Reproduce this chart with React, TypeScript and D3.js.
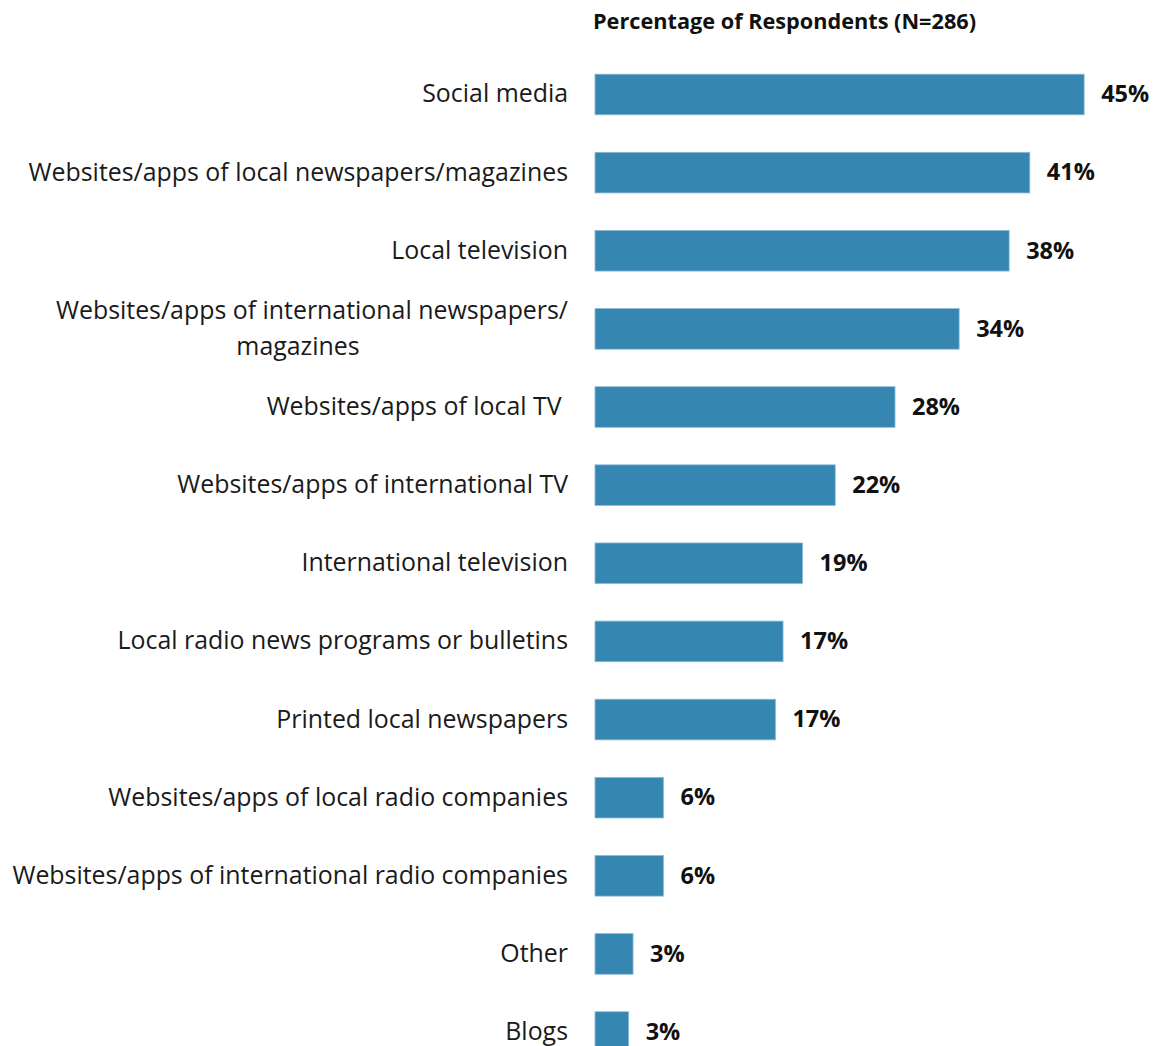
import React from "react";
import * as d3 from "d3";

const categories = [
  "Social media",
  "Websites/apps of local newspapers/magazines",
  "Local television",
  "Websites/apps of international newspapers/\nmagazines",
  "Websites/apps of local TV ",
  "Websites/apps of international TV",
  "International television",
  "Local radio news programs or bulletins",
  "Printed local newspapers",
  "Websites/apps of local radio companies",
  "Websites/apps of international radio companies",
  "Other",
  "Blogs",
];

// bar lengths (percent)
const values = [45.0, 40.0, 38.1, 33.5, 27.6, 22.1, 19.1, 17.3, 16.6, 6.3, 6.3, 3.5, 3.1];
// printed data labels
const valueLabels = ["45%", "41%", "38%", "34%", "28%", "22%", "19%", "17%", "17%", "6%", "6%", "3%", "3%"];

const title = "Percentage of Respondents (N=286)";

const W = 1159;
const H = 1046;

export default function App() {
  const x0 = 595;
  const pxPerPct = 10.87;
  const x = d3.scaleLinear().domain([0, 50]).range([x0, x0 + 50 * pxPerPct]);
  const step = 78.13;
  const yStart = 94.5 - step / 2;
  const y = d3
    .scaleBand<string>()
    .domain(categories)
    .range([yStart, yStart + step * categories.length])
    .paddingInner(0.48)
    .paddingOuter(0.24);

  const labelRight = 568;
  const font = "'Open Sans', 'Noto Sans', sans-serif";

  return (
    <svg
      width={W}
      height={H}
      style={{ position: "absolute", left: 0, top: 0, background: "#fff" }}
      fontFamily={font}
    >
      <rect x={0} y={0} width={W} height={H} fill="#fff" />
      <text x={593} y={29} fontSize={21.7} fontWeight={700} fill="#111">
        {title}
      </text>
      {categories.map((c, i) => {
        const by = y(c)!;
        const bh = y.bandwidth();
        const cy = by + bh / 2;
        const lines = c.split("\n");
        return (
          <g key={c}>
            <rect
              x={x(0)}
              y={by}
              width={x(values[i]) - x(0)}
              height={bh}
              fill="#3586b1"
              stroke="#8dbbd6"
              strokeWidth={0.8}
            />
            {lines.length === 1 ? (
              <text
                x={labelRight}
                y={cy}
                dy="0.32em"
                textAnchor="end"
                fontSize={24.9}
                fill="#1a1a1a"
                style={{ whiteSpace: "pre" }}
              >
                {c}
              </text>
            ) : (
              lines.map((ln, k) => (
                <text
                  key={k}
                  x={k === 0 ? labelRight : labelRight - 270}
                  y={cy + (k - (lines.length - 1) / 2) * 36}
                  dy="0.32em"
                  textAnchor={k === 0 ? "end" : "middle"}
                  fontSize={24.9}
                  fill="#1a1a1a"
                >
                  {ln}
                </text>
              ))
            )}
            <text
              x={x(values[i]) + 17}
              y={cy}
              dy="0.33em"
              fontSize={23.5}
              fontWeight={700}
              fill="#111"
            >
              {valueLabels[i]}
            </text>
          </g>
        );
      })}
    </svg>
  );
}
